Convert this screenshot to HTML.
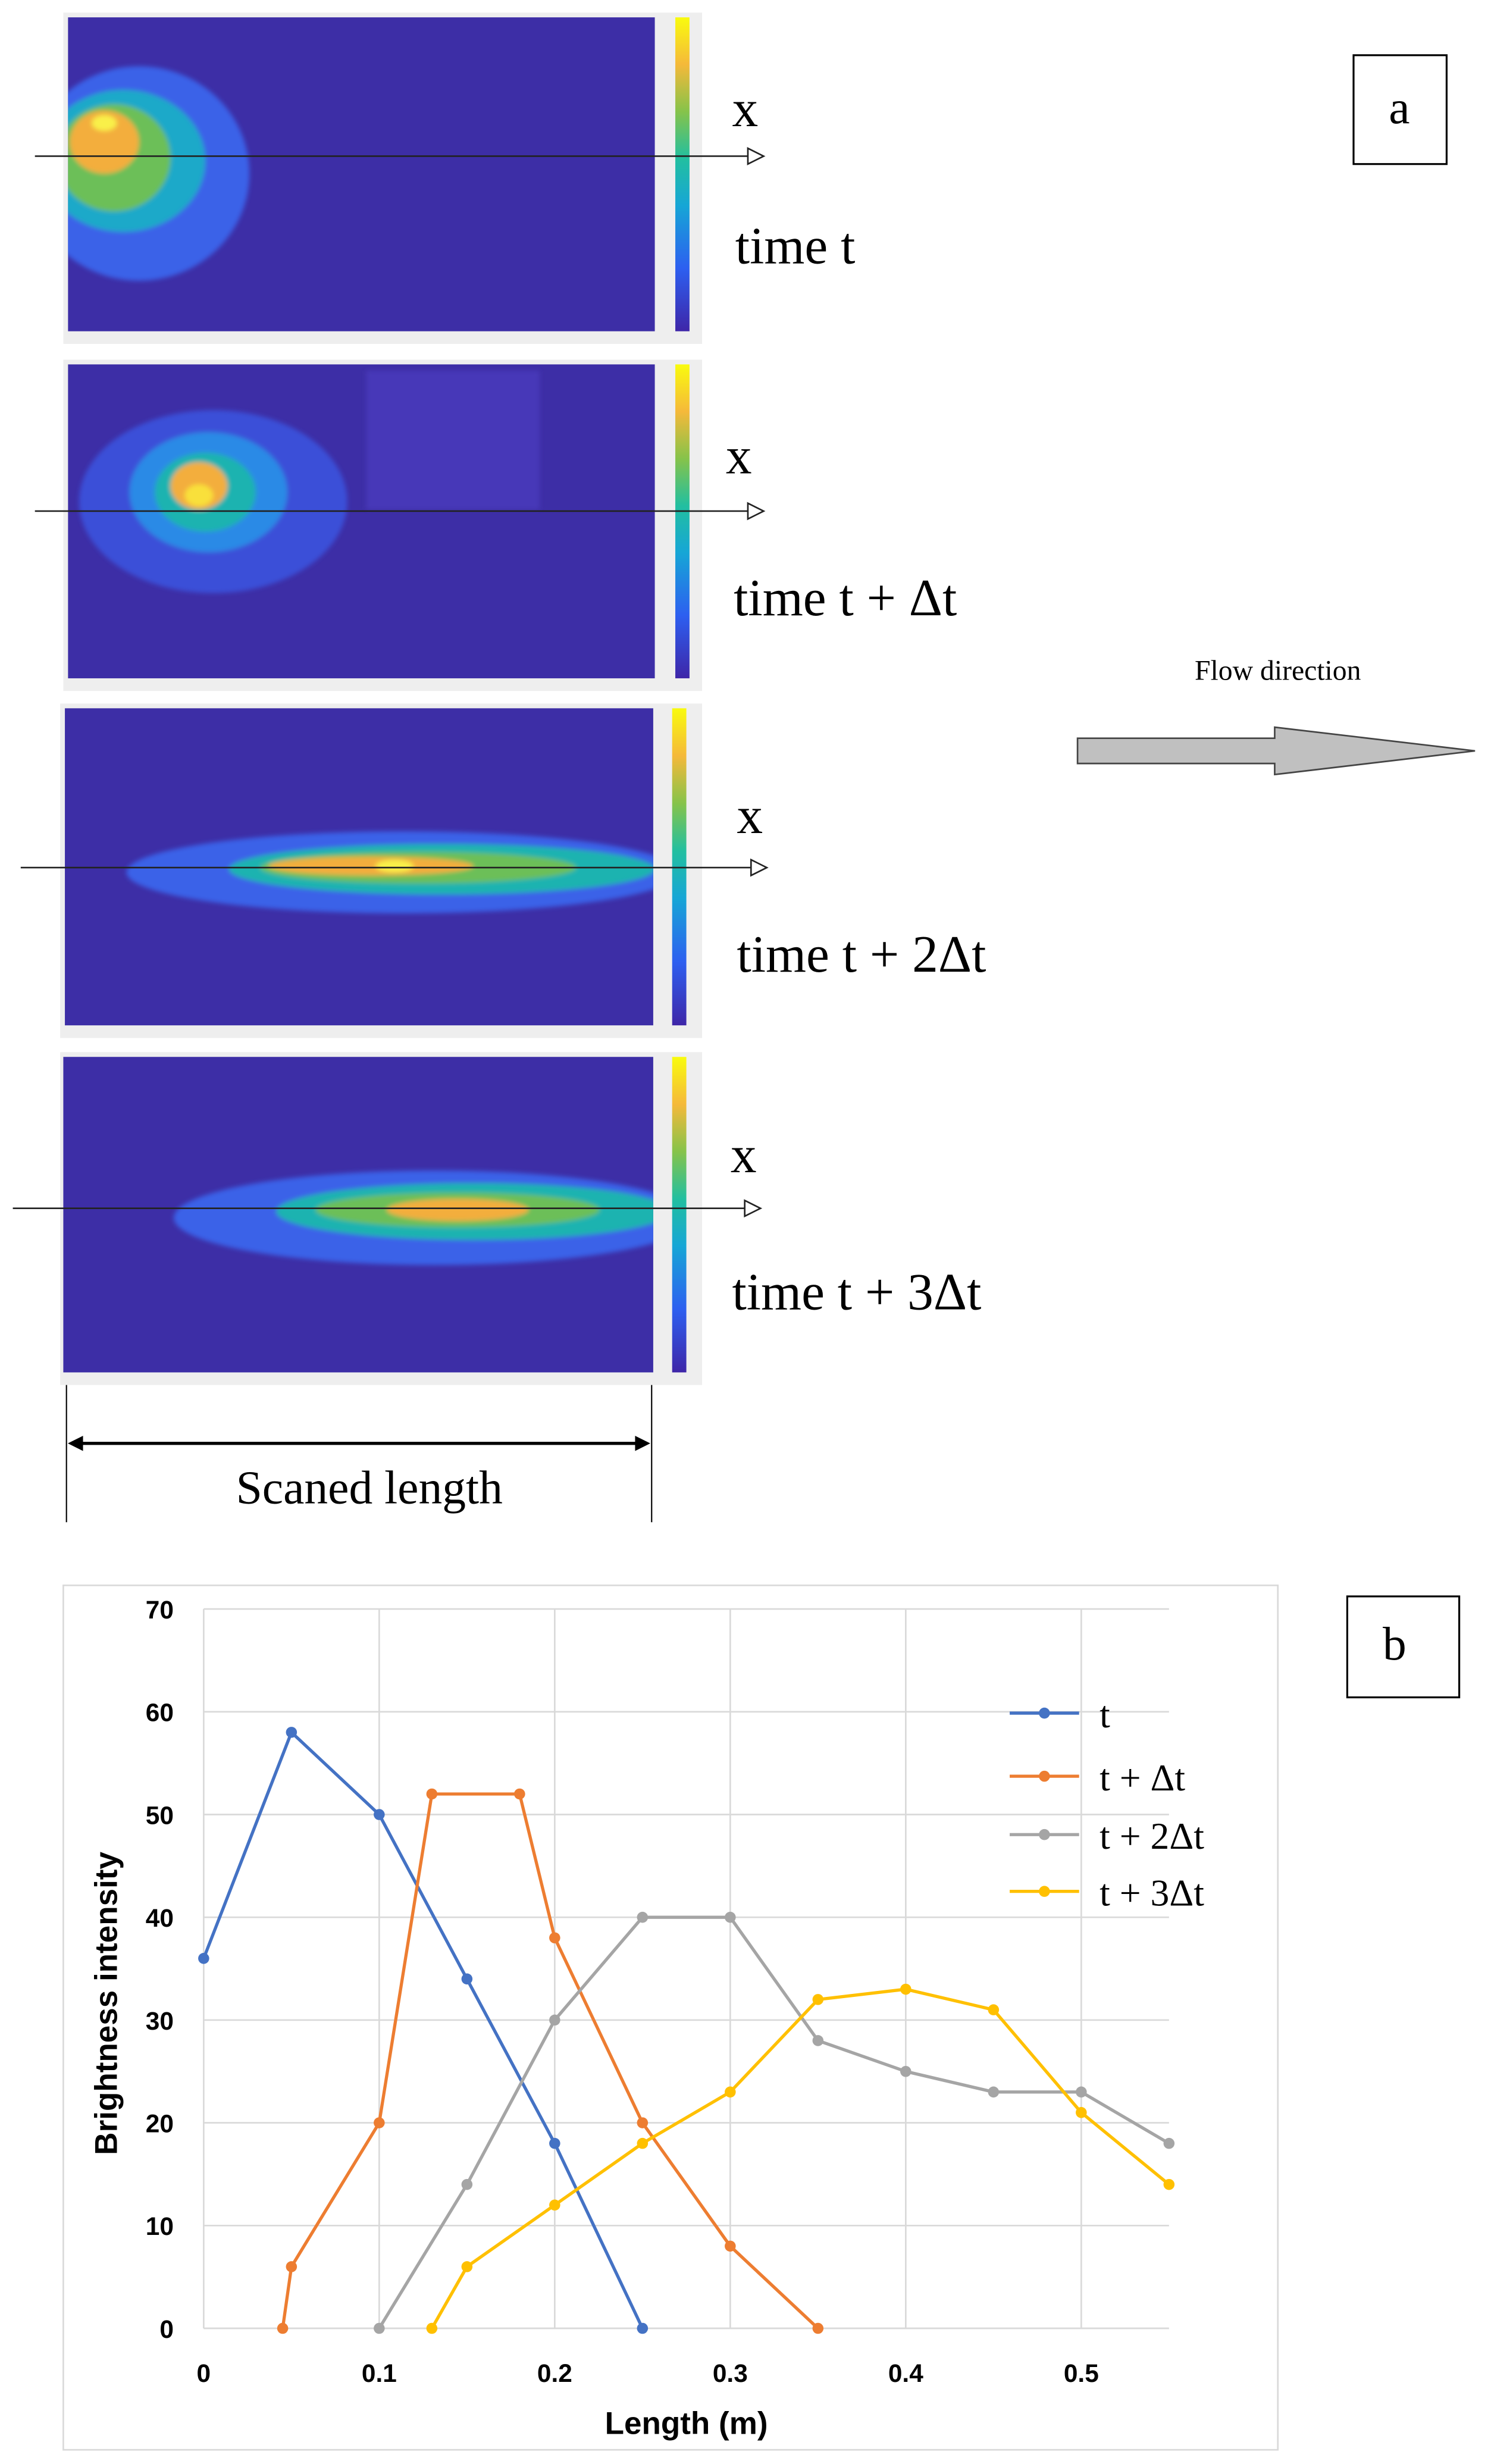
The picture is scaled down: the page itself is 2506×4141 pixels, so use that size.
<!DOCTYPE html>
<html><head><meta charset="utf-8"><style>
html,body{margin:0;padding:0;background:#fff;}
svg{display:block;}
</style></head><body>
<svg id="root" width="2506" height="4141" viewBox="0 0 945 1562" xmlns="http://www.w3.org/2000/svg" font-family="'Liberation Serif', serif">
<defs>
<linearGradient id="parula" x1="0" y1="1" x2="0" y2="0">
<stop offset="0" stop-color="#3e26a8"/><stop offset="0.2" stop-color="#2d5ff0"/><stop offset="0.4" stop-color="#16a6d6"/><stop offset="0.55" stop-color="#22bfa0"/><stop offset="0.7" stop-color="#86c34a"/><stop offset="0.85" stop-color="#f5b93a"/><stop offset="1" stop-color="#f9fb0e"/>
</linearGradient>
<filter id="bl"><feGaussianBlur stdDeviation="1.5"/></filter>
<clipPath id="c1"><rect x="43" y="11" width="372" height="199"/></clipPath>
<clipPath id="c2"><rect x="43" y="231" width="372" height="199"/></clipPath>
<clipPath id="c3"><rect x="41" y="449" width="373" height="201"/></clipPath>
<clipPath id="c4"><rect x="40" y="670" width="374" height="200"/></clipPath>
</defs>

<!-- Panel 1 -->
<g>
<rect x="40" y="8" width="405" height="210" fill="#eeeeee"/>
<rect x="43" y="11" width="372" height="199" fill="#3d2ea6"/>
<g clip-path="url(#c1)" filter="url(#bl)">
<ellipse cx="88" cy="110" rx="70" ry="68" fill="#3a62e8"/>
<ellipse cx="78" cy="102" rx="52" ry="45" fill="#1fa9c9"/>
<ellipse cx="72" cy="100" rx="36" ry="34" fill="#6cbf58"/>
<ellipse cx="66" cy="90" rx="22" ry="20" fill="#f3ae3c"/>
<ellipse cx="66" cy="78" rx="8" ry="5" fill="#f9f04a"/>
</g>
<rect x="428" y="11" width="9" height="199" fill="url(#parula)"/>
</g>
<!-- Panel 2 -->
<g>
<rect x="40" y="228" width="405" height="210" fill="#eeeeee"/>
<rect x="43" y="231" width="372" height="199" fill="#3d2ea6"/>
<g clip-path="url(#c2)" filter="url(#bl)">
<rect x="232" y="235" width="110" height="88" fill="#4738b8"/>
<ellipse cx="135" cy="318" rx="85" ry="58" fill="#3a4fd8"/>
<ellipse cx="132" cy="312" rx="50" ry="38" fill="#2a8ae6"/>
<ellipse cx="130" cy="312" rx="32" ry="25" fill="#1fb3b0"/>
<ellipse cx="126" cy="308" rx="18" ry="15" fill="#f3ae3c"/>
<ellipse cx="126" cy="314" rx="9" ry="7" fill="#f9e03a"/>
</g>
<rect x="428" y="231" width="9" height="199" fill="url(#parula)"/>
</g>
<!-- Panel 3 -->
<g>
<rect x="38" y="446" width="407" height="212" fill="#eeeeee"/>
<rect x="41" y="449" width="373" height="201" fill="#3d2ea6"/>
<g clip-path="url(#c3)" filter="url(#bl)">
<ellipse cx="255" cy="553" rx="175" ry="26" fill="#3a62e8"/>
<ellipse cx="280" cy="551" rx="135" ry="16" fill="#1fb3b0"/>
<ellipse cx="265" cy="550" rx="100" ry="10" fill="#6cbf58"/>
<ellipse cx="235" cy="549" rx="65" ry="6" fill="#f3ae3c"/>
<ellipse cx="250" cy="549" rx="12" ry="4" fill="#f9f04a"/>
</g>
<rect x="426" y="449" width="9" height="201" fill="url(#parula)"/>
</g>
<!-- Panel 4 -->
<g>
<rect x="38" y="667" width="407" height="211" fill="#eeeeee"/>
<rect x="40" y="670" width="374" height="200" fill="#3d2ea6"/>
<g clip-path="url(#c4)" filter="url(#bl)">
<ellipse cx="275" cy="772" rx="165" ry="30" fill="#3a62e8"/>
<ellipse cx="300" cy="768" rx="125" ry="18" fill="#1fb3b0"/>
<ellipse cx="290" cy="767" rx="90" ry="11" fill="#6cbf58"/>
<ellipse cx="290" cy="767" rx="45" ry="7" fill="#f3ae3c"/>
</g>
<rect x="426" y="670" width="9" height="200" fill="url(#parula)"/>
</g>

<!-- scan lines -->
<g stroke="#222" stroke-width="1" fill="#fff">
<line x1="22" y1="99" x2="474" y2="99"/><polygon points="474,94 484,99 474,104"/>
<line x1="22" y1="324" x2="474" y2="324"/><polygon points="474,319 484,324 474,329"/>
<line x1="13" y1="550" x2="476" y2="550"/><polygon points="476,545 486,550 476,555"/>
<line x1="8" y1="766" x2="472" y2="766"/><polygon points="472,761 482,766 472,771"/>
</g>
<g font-size="33" fill="#000">
<text x="464" y="80">x</text>
<text x="466" y="167">time t</text>
<text x="460" y="300">x</text>
<text x="465" y="390">time t + Δt</text>
<text x="467" y="528">x</text>
<text x="467" y="616">time t + 2Δt</text>
<text x="463" y="743">x</text>
<text x="464" y="830">time t + 3Δt</text>
</g>
<rect x="858" y="35" width="59" height="69" fill="#fff" stroke="#000" stroke-width="1.2"/>
<text x="887" y="78" font-size="30" text-anchor="middle">a</text>
<text x="810" y="431" font-size="18" text-anchor="middle">Flow direction</text>
<polygon points="683,468 808,468 808,461 935,476 808,491 808,484 683,484" fill="#c0c0c0" stroke="#444" stroke-width="1"/>
<g stroke="#000">
<line x1="42" y1="878" x2="42" y2="965" stroke-width="0.8"/>
<line x1="413" y1="878" x2="413" y2="965" stroke-width="0.8"/>
<line x1="46" y1="915" x2="408" y2="915" stroke-width="2"/>
<polygon points="44,915 52,911 52,919" fill="#000"/>
<polygon points="411,915 403,911 403,919" fill="#000"/>
</g>
<text x="234" y="953" font-size="30" text-anchor="middle">Scaned length</text>

<!-- Chart b -->
<rect x="40" y="1005" width="770" height="548" fill="#fff" stroke="#d9d9d9" stroke-width="1"/>
<g id="chart"></g>
<rect x="854" y="1012" width="71" height="64" fill="#fff" stroke="#000" stroke-width="1.2"/>
<text x="884" y="1052" font-size="30" text-anchor="middle">b</text>
</svg>
<script>
const xTicks=[0,0.1,0.2,0.3,0.4,0.5];
const yTicks=[0,10,20,30,40,50,60,70];
const seriesNames=["t","t + Δt","t + 2Δt","t + 3Δt"];
const seriesColors=["#4472c4","#ed7d31","#a5a5a5","#ffc000"];
const xT=[0,0.05,0.1,0.15,0.2,0.25];
const yT=[36,58,50,34,18,0];
const xT1=[0.045,0.05,0.1,0.13,0.18,0.2,0.25,0.3,0.35];
const yT1=[0,6,20,52,52,38,20,8,0];
const xT2=[0.1,0.15,0.2,0.25,0.3,0.35,0.4,0.45,0.5,0.55];
const yT2=[0,14,30,40,40,28,25,23,23,18];
const xT3=[0.13,0.15,0.2,0.25,0.3,0.35,0.4,0.45,0.5,0.55];
const yT3=[0,6,12,18,23,32,33,31,21,14];

const NS="http://www.w3.org/2000/svg";
const g=document.getElementById('chart');
const X0=129,X1=741,Y0=1476,Y1=1020;
function sx(v){return X0+(X1-X0)*v/0.55;}
function sy(v){return Y0+(Y1-Y0)*v/70;}
function mk(tag,attrs){const e=document.createElementNS(NS,tag);for(const k in attrs)e.setAttribute(k,attrs[k]);g.appendChild(e);return e;}
yTicks.forEach(v=>{
  const l=mk('line',{x1:X0,x2:X1,y1:sy(v),y2:sy(v),stroke:'#d9d9d9','stroke-width':1});
  
  
  const t=mk('text',{x:110,y:sy(v)+6,'font-size':16,'font-weight':'bold','text-anchor':'end','font-family':"'Liberation Sans', sans-serif",fill:'#000'});
  t.textContent=v;
  
  
});
xTicks.forEach(v=>{
  const l=mk('line',{x1:sx(v),x2:sx(v),y1:Y0,y2:Y1,stroke:'#d9d9d9','stroke-width':1});
  
  
  const t=mk('text',{x:sx(v),y:1510,'font-size':16,'font-weight':'bold','text-anchor':'middle','font-family':"'Liberation Sans', sans-serif",fill:'#000'});
  t.textContent=v;
  
  
});
const xt=mk('text',{x:435,y:1543,'font-size':20,'font-weight':'bold','text-anchor':'middle','font-family':"'Liberation Sans', sans-serif"});
xt.textContent='Length (m)';


const yt=mk('text',{x:0,y:0,'font-size':20,'font-weight':'bold','text-anchor':'middle','font-family':"'Liberation Sans', sans-serif",transform:'translate(74,1270) rotate(-90)'});
yt.textContent='Brightness intensity';


const allX=[xT,xT1,xT2,xT3],allY=[yT,yT1,yT2,yT3];
allX.forEach((xs,i)=>{
  const pts=xs.map((x,j)=>sx(x)+','+sy(allY[i][j])).join(' ');
  const p=mk('polyline',{points:pts,fill:'none',stroke:seriesColors[i],'stroke-width':2});
  
  
  xs.forEach((x,j)=>{
    const c=mk('circle',{cx:sx(x),cy:sy(allY[i][j]),r:3.5,fill:seriesColors[i]});
    
    
  });
});
const legY=[1086,1126,1163,1199];
seriesNames.forEach((n,i)=>{
  const l=mk('line',{x1:640,x2:684,y1:legY[i],y2:legY[i],stroke:seriesColors[i],'stroke-width':2});
  
  
  const c=mk('circle',{cx:662,cy:legY[i],r:3.5,fill:seriesColors[i]});
  
  
  const t=mk('text',{x:697,y:legY[i]+9,'font-size':24,fill:'#000'});
  t.textContent=n;
  
  
});
</script>
</body></html>
